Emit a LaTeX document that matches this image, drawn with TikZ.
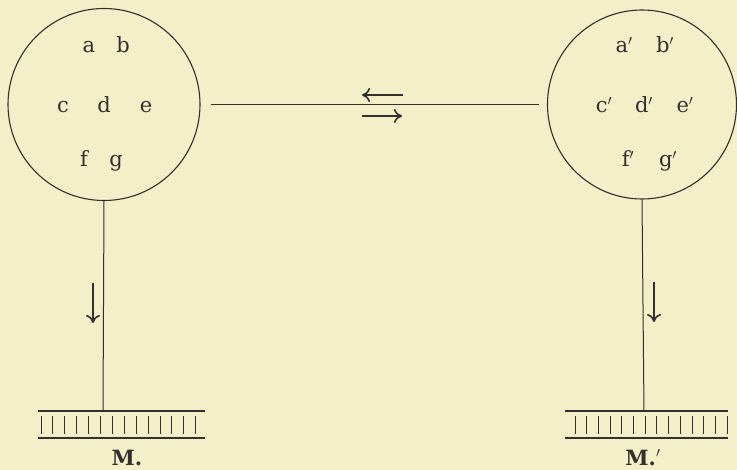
\documentclass[tikz,border=0pt]{standalone}
\usepackage{fontspec}
\setmainfont{DejaVu Serif}
\usetikzlibrary{arrows.meta}
\definecolor{paper}{RGB}{243,239,200}
\definecolor{ink}{RGB}{50,47,44}

\begin{document}
\begin{tikzpicture}[x=1pt, y=-1pt, ink, font=\fontsize{21}{23}\selectfont,
  ring/.style={draw=ink, circle, line width=1.1pt, inner sep=0pt},
  link/.style={draw=ink, line width=1pt},
  flow/.style={draw=ink, line width=1.6pt, -{To[length=8pt,width=14pt]}},
  letter/.style={anchor=base, inner sep=0pt}]
  \fill[paper] (0,0) rectangle (737,470);
  \useasboundingbox (0,0) rectangle (737,470);

  % the two circles
  \node[ring, minimum size=192pt] (left) at (104,104.5) {};
  \node[ring, minimum size=189pt] (right) at (642,104.5) {};

  \foreach \n/\x/\y in {a/89/53, b/123/53, c/63/113, d/104/113, e/146/113, f/84/167, g/116/167}
    \node[letter] (\n) at (\x,\y) {\n};
  \foreach \n/\x/\y in {a/624/53, b/665/53, c/604/113, d/644/113, e/685/113, f/628/167, g/668/167}
    \node[letter] (\n') at (\x,\y) {\n$'$};

  % link between them, both ways
  \draw[link, shorten <=10pt, shorten >=7.5pt] (left.east) -- (right.west);
  \coordinate (backs) at (403,95);   \coordinate (backe) at (362,95);
  \coordinate (fores) at (362,116);  \coordinate (foree) at (402,116);
  \draw[flow] (backs) -- (backe);
  \draw[flow] (fores) -- (foree);

  % bars M and M'
  \coordinate (mL) at (103,411);
  \coordinate (mR) at (644,411);
  \foreach \bx/\bw/\tx/\td in {38/167/41/11.9, 565/163/575/11.7} {
    \draw[line width=1.2pt] (\bx,411) -- ++(\bw,0);
    \draw[line width=1.2pt] (\bx,438) -- ++(\bw,0);
    \foreach \i in {0,...,13}
      \draw[line width=1pt] (\tx+\i*\td,416) -- (\tx+\i*\td,434);
  }
  \draw[link] (left.south) -- (mL);
  \draw[link] (right.south) -- (mR);
  \coordinate (dls) at (93,283);  \coordinate (dle) at (93,323);
  \coordinate (drs) at (654,282); \coordinate (dre) at (654,322);
  \draw[flow] (dls) -- (dle);
  \draw[flow] (drs) -- (dre);

  \node[letter, font=\fontsize{21}{23}\selectfont\bfseries] (M) at (127,465) {M.};
  \node[letter, font=\fontsize{21}{23}\selectfont\bfseries] (M') at (643,465) {M.$'$};
\end{tikzpicture}
\end{document}
